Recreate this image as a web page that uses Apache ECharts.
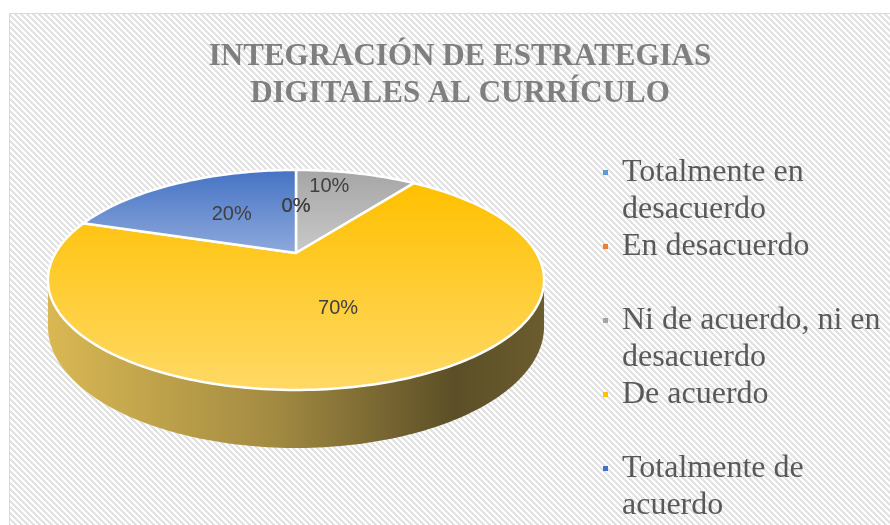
<!DOCTYPE html>
<html>
<head>
<meta charset="utf-8">
<script src="https://cdn.jsdelivr.net/npm/echarts@6/dist/echarts.min.js"></script>
<style>
html, body { margin: 0; padding: 0; background: #fff; }
#chart { width: 890px; height: 525px; }
</style>
</head>
<body>
<div id="chart"></div>
<script>
// datos del gráfico
var categorias = ['Totalmente en desacuerdo', 'En desacuerdo', 'Ni de acuerdo, ni en desacuerdo', 'De acuerdo', 'Totalmente de acuerdo'];
var valores = [0, 0, 10, 70, 20];
var colores = ['#5b9bd5', '#ed7d31', '#a5a5a5', '#ffc000', '#4472c4'];
var titulo = 'INTEGRACIÓN DE ESTRATEGIAS\nDIGITALES AL CURRÍCULO';

// geometría del pastel 3D (perspectiva simple, el pastel empieza a las 12 y gira en sentido horario)
var CX = 296, CY = 253;
var RX = 240.5, RY = 103.4, K = 0.245, GROSOR = 43.8;

function proj(theta, r, caida) {
  var u = r * Math.sin(theta), v = -r * Math.cos(theta);
  var w = 1 - K * v;
  return [CX + RX * u / w, CY + (RY * v + (caida || 0)) / w];
}

function arco(t1, t2, r, caida) {
  var n = Math.max(2, Math.ceil((t2 - t1) / 0.02));
  var pts = [];
  for (var k = 0; k <= n; k++) pts.push(proj(t1 + (t2 - t1) * k / n, r, caida));
  return pts;
}

var total = valores.reduce(function (a, b) { return a + b; }, 0);
var inicio = [];
var acc = 0;
valores.forEach(function (v) { inicio.push(acc / total * 2 * Math.PI); acc += v; });

// extremos izquierdo/derecho del borde (donde se ve el lateral)
var tDer = Math.acos(-K), tIzq = 2 * Math.PI - tDer;
var xIzq = proj(tIzq, 1)[0], xDer = proj(tDer, 1)[0];

// posiciones de las etiquetas, como en Excel se sube la que choca con otra
var etiquetas = valores.map(function (v, i) {
  return proj(inicio[i] + v / total * Math.PI, 0.5);
});
for (var i = 0; i < etiquetas.length; i++) {
  for (var j = 0; j < i; j++) {
    var dx = etiquetas[i][0] - etiquetas[j][0], dy = etiquetas[i][1] - etiquetas[j][1];
    if (Math.abs(dx) > 1 && Math.abs(dx) < 40 && Math.abs(dy) < 18) etiquetas[i][1] = etiquetas[j][1] - 20;
  }
}

function renderSlice(params, api) {
  var i = params.seriesIndex;
  var v = api.value(0);
  var t1 = inicio[i], t2 = t1 + v / total * 2 * Math.PI;
  var color = api.visual('color');
  var lerp = echarts.color.lerp;
  var hijos = [];

  var a = Math.max(t1, tDer), b = Math.min(t2, tIzq);
  if (b > a) {
    var arriba = arco(a, b, 1, 0), abajo = arco(a, b, 1, GROSOR).reverse();
    hijos.push({
      type: 'polygon',
      z2: 1,
      shape: { points: arriba.concat(abajo) },
      style: {
        fill: new echarts.graphic.LinearGradient(xIzq, 0, xDer, 0, [
          { offset: 0, color: lerp(0.475, [color, '#afafaf']) },
          { offset: 0.45, color: lerp(0.62, [color, '#6a6a6a']) },
          { offset: 0.82, color: lerp(0.79, [color, '#313131']) },
          { offset: 1, color: lerp(0.76, [color, '#3c3c3c']) }
        ], true)
      }
    });
  }

  hijos.push({
    type: 'polygon',
    z2: 10,
    shape: { points: [[CX, CY]].concat(arco(t1, t2, 1, 0)) },
    style: {
      fill: new echarts.graphic.LinearGradient(0, 0, 0, 1, [
        { offset: 0, color: color },
        { offset: 1, color: lerp(0.4, [color, '#ffffff']) }
      ]),
      stroke: '#ffffff',
      lineWidth: 2.5,
      lineJoin: 'round'
    }
  });

  hijos.push({
    type: 'text',
    z2: 20,
    x: etiquetas[i][0],
    y: etiquetas[i][1],
    style: {
      text: Math.round(v / total * 100) + '%',
      fill: '#404040',
      font: '20px "Liberation Sans"',
      align: 'center',
      verticalAlign: 'middle'
    }
  });

  return { type: 'group', children: hijos };
}

// reparto en líneas de los textos de la leyenda
var medida = document.createElement('canvas').getContext('2d');
medida.font = '32px "Liberation Serif"';
function partir(texto) {
  var filas = [], linea = '';
  texto.split(' ').forEach(function (p) {
    var prueba = linea ? linea + ' ' + p : p;
    if (linea && medida.measureText(prueba).width > 262) { filas.push(linea); linea = p; } else { linea = prueba; }
  });
  filas.push(linea);
  // una línea vacía delante deja el marcador a la altura de la primera línea
  return (filas.length > 1 ? '\n' : '') + filas.join('\n');
}

// trama de rayas diagonales del fondo
var trama = document.createElement('canvas');
trama.width = trama.height = 6;
var tctx = trama.getContext('2d');
tctx.fillStyle = '#ffffff';
tctx.fillRect(0, 0, 6, 6);
tctx.fillStyle = '#e2e2e2';
for (var y = 0; y < 6; y++) {
  for (var x = 0; x < 6; x++) {
    if ((x - y + 6) % 6 < 3) tctx.fillRect(x, y, 1, 1);
  }
}

var chart = echarts.init(document.getElementById('chart'));
chart.setOption({
  animation: false,
  color: colores,
  graphic: [{
    type: 'rect',
    silent: true,
    shape: { x: 9.5, y: 13.5, width: 900, height: 540 },
    style: { fill: { image: trama, repeat: 'repeat' }, stroke: '#d9d9d9', lineWidth: 1 }
  }],
  title: {
    text: titulo,
    left: 460,
    top: 38,
    padding: 0,
    textAlign: 'center',
    textStyle: {
      fontFamily: 'Liberation Serif',
      fontWeight: 'bold',
      fontSize: 31,
      lineHeight: 37,
      color: '#7f7f7f'
    }
  },
  legend: {
    orient: 'vertical',
    left: 603,
    top: 117,
    padding: 0,
    itemGap: 0,
    itemWidth: 5,
    itemHeight: 5,
    icon: 'rect',
    data: categorias,
    formatter: partir,
    textStyle: {
      fontFamily: 'Liberation Serif',
      fontSize: 32,
      lineHeight: 37,
      color: '#595959',
      padding: [0, 0, 0, 9],
      backgroundColor: 'rgba(0,0,0,0)'
    }
  },
  series: categorias.map(function (n, i) {
    return {
      type: 'custom',
      name: n,
      coordinateSystem: 'none',
      renderItem: renderSlice,
      data: [valores[i]]
    };
  })
});
</script>
</body>
</html>
